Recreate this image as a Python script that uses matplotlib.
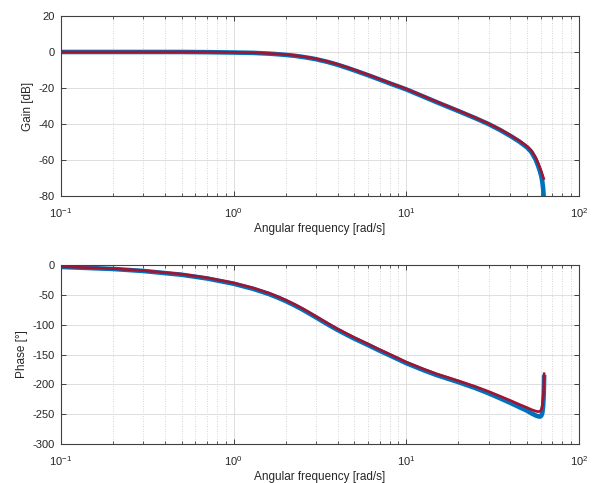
import matplotlib
matplotlib.use("Agg")
import matplotlib.pyplot as plt
from matplotlib.ticker import LogLocator, FixedLocator, NullFormatter

plt.rcParams['font.family'] = ['Liberation Sans', 'DejaVu Sans']
plt.rcParams['mathtext.default'] = 'regular'
plt.rcParams['axes.unicode_minus'] = False

# ---- data ----
freq = [0.1, 0.2, 0.3, 0.5, 0.7, 1.0, 1.3, 1.6, 1.8, 2.0, 2.25, 2.5, 2.75, 3.0, 3.25, 3.5, 3.75,
        4.0, 4.5, 5.0, 6.0, 7.0, 8.0,
        10.0, 12.5, 15.0, 20.0, 25.0, 30.0, 35.0, 40.0, 45.0, 50.0, 53.0, 56.0, 58.0,
        59.5, 60.5, 61.3, 62.0, 62.5, 62.83]

gain_red = [0.0, 0.0, 0.0, 0.0, -0.05, -0.2, -0.4, -0.8, -1.1, -1.4, -1.9, -2.5, -3.1, -3.8, -4.55, -5.3, -6.05,
            -6.8, -8.35, -9.9, -12.6, -15.0, -17.1,
            -20.5, -24.4, -27.6, -32.5, -36.4, -39.8, -43.0, -46.2, -49.2, -52.4, -54.8, -58.5, -61.8,
            -64.4, -66.3, -68.0, -69.5, -70.3, -71.0]
gain_blue = [0.0, 0.0, 0.0, 0.0, -0.1, -0.3, -0.5, -0.9, -1.25, -1.6, -2.1, -2.7, -3.35, -4.0, -4.8, -5.5, -6.35,
             -7.1, -8.7, -10.2, -12.9, -15.3, -17.4,
             -20.8, -24.7, -27.9, -32.8, -36.7, -40.1, -43.4, -46.6, -49.7, -53.0, -55.6, -59.6, -63.3,
             -66.5, -69.0, -72.0, -76.0, -81.0, -100.0]

phase_red = [-2.8, -6.0, -9.3, -15.3, -21.3, -30.0, -38.5, -47.0, -52.8, -58.6, -65.8, -72.8, -79.6, -86.0, -92.0, -97.5, -102.5,
             -107.0, -114.8, -121.5, -132.3, -141.7, -149.5,
             -162.7, -174.0, -182.5, -194.0, -203.5, -212.0, -220.0, -227.0, -233.5, -239.0, -242.3, -244.8, -245.8,
             -245.0, -242.5, -236.0, -222.0, -205.0, -180.0]
phase_blue = [-3.2, -6.6, -10.0, -16.3, -22.5, -31.3, -40.0, -48.6, -54.5, -60.3, -67.5, -74.5, -81.4, -87.8, -93.8, -99.3, -104.3,
              -108.8, -116.6, -123.3, -134.1, -143.5, -151.3,
              -164.5, -175.9, -184.5, -196.2, -206.0, -215.0, -223.5, -231.0, -238.0, -244.2, -248.5, -252.0, -253.6,
              -254.0, -252.5, -248.0, -236.0, -215.0, -184.0]

xticks = [0.1, 1, 10, 100]
xticklabels = ['$10^{-1}$', '$10^{0}$', '$10^{1}$', '$10^{2}$']
gain_ticks = [20, 0, -20, -40, -60, -80]
phase_ticks = [0, -50, -100, -150, -200, -250, -300]

blue = '#0072BD'
red = '#A2142F'
txt = '#262626'

fig = plt.figure(figsize=(5.96, 4.83), dpi=100)
ax1 = fig.add_axes([0.1023, 0.5942, 0.8692, 0.3727])
ax2 = fig.add_axes([0.1023, 0.0807, 0.8692, 0.3706])

def style(ax, yticks, ylim, ylabel):
    ax.set_xscale('log')
    ax.set_xlim(0.1, 100)
    ax.set_ylim(*ylim)
    ax.xaxis.set_major_locator(FixedLocator(xticks))
    ax.set_xticklabels(xticklabels)
    ax.xaxis.set_minor_locator(LogLocator(base=10, subs=[2, 3, 4, 5, 6, 7, 8, 9]))
    ax.xaxis.set_minor_formatter(NullFormatter())
    ax.set_yticks(yticks)
    ax.tick_params(which='both', direction='in', top=True, right=True,
                   colors='#404040', labelcolor=txt, labelsize=8)
    ax.tick_params(which='major', length=3.5, width=0.7)
    ax.tick_params(axis='x', which='major', pad=7.3)
    ax.tick_params(axis='y', which='major', pad=4.5)
    ax.tick_params(which='minor', length=2, width=0.6)
    ax.grid(True, which='major', color='#dedede', linewidth=0.7, linestyle='-')
    ax.grid(True, which='minor', axis='x', color='#c8c8c8', linewidth=0.6, linestyle=(0, (1, 2)))
    ax.set_axisbelow(True)
    for s in ax.spines.values():
        s.set_color('#404040')
        s.set_linewidth(0.8)
    ax.set_xlabel('Angular frequency [rad/s]', fontsize=8.5, color=txt, labelpad=2.5)
    ax.set_ylabel(ylabel, fontsize=8.5, color=txt, labelpad=3)

ax1.plot(freq, gain_blue, color=blue, lw=3.3, solid_capstyle='butt', solid_joinstyle='round')
ax1.plot(freq, gain_red, color=red, lw=1.9, solid_capstyle='butt', solid_joinstyle='round')
style(ax1, gain_ticks, (-80, 20), 'Gain [dB]')

ax2.plot(freq, phase_blue, color=blue, lw=3.3, solid_capstyle='butt', solid_joinstyle='round')
ax2.plot(freq, phase_red, color=red, lw=1.9, solid_capstyle='butt', solid_joinstyle='round')
style(ax2, phase_ticks, (-300, 0), 'Phase [°]')

fig.savefig('out.png', dpi=100)
